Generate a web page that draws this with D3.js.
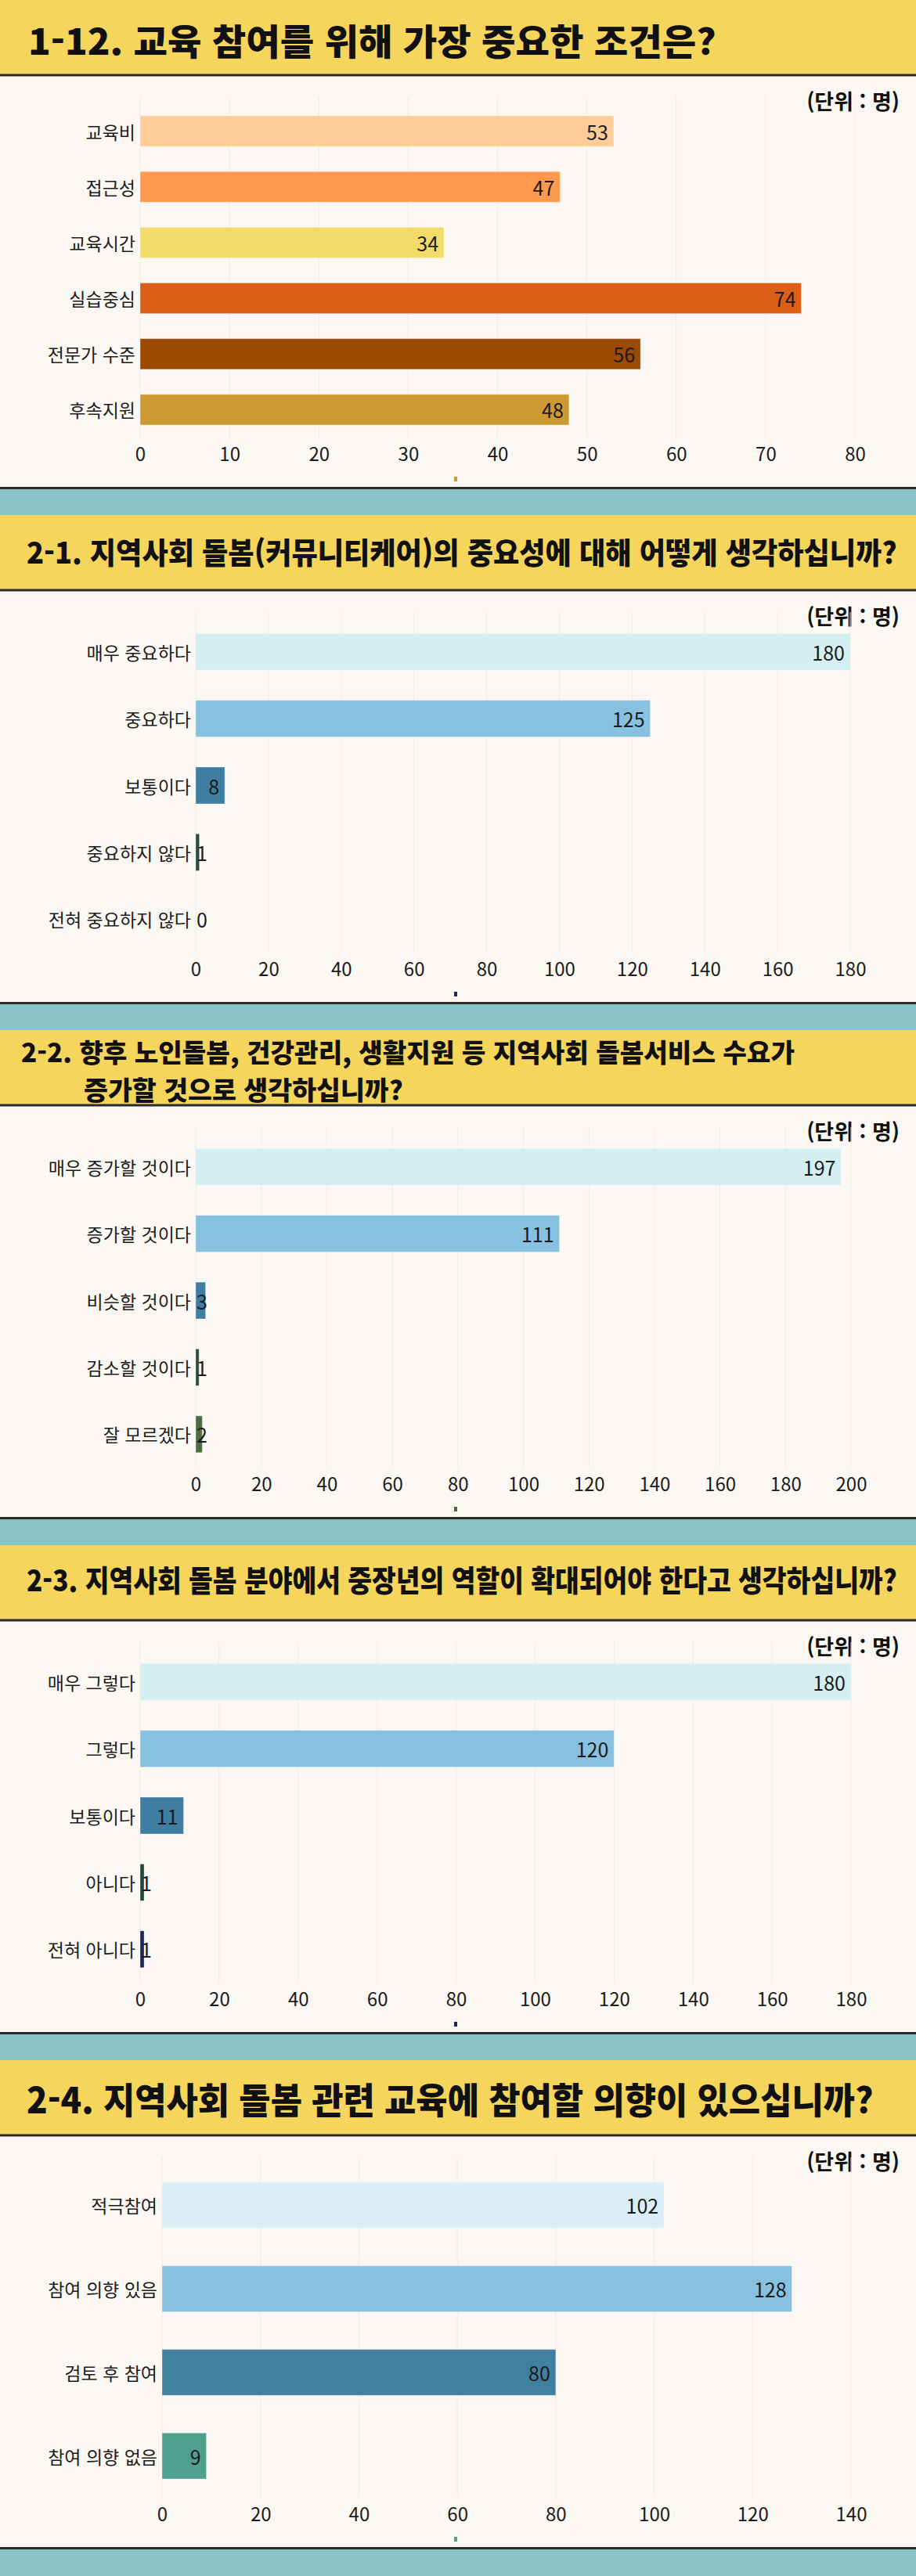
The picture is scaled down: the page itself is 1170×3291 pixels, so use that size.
<!DOCTYPE html>
<html lang="ko">
<head>
<meta charset="utf-8">
<script src="https://cdn.jsdelivr.net/npm/d3@7/dist/d3.min.js"></script>
<style>
  html, body { margin: 0; padding: 0; background: #88C4C6; }
  svg { display: block; }
  text { font-family: "Noto Sans CJK KR", "Noto Sans", sans-serif; }
</style>
</head>
<body>
<div id="chart"></div>
<script>
// ---------- DATA ----------
const q1Title = ["1-12. 교육 참여를 위해 가장 중요한 조건은?"];
const q1Categories = ["교육비", "접근성", "교육시간", "실습중심", "전문가 수준", "후속지원"];
const q1Values = [53, 47, 34, 74, 56, 48];
const q1Ticks = [0, 10, 20, 30, 40, 50, 60, 70, 80];

const q2Title = ["2-1. 지역사회 돌봄(커뮤니티케어)의 중요성에 대해 어떻게 생각하십니까?"];
const q2Categories = ["매우 중요하다", "중요하다", "보통이다", "중요하지 않다", "전혀 중요하지 않다"];
const q2Values = [180, 125, 8, 1, 0];
const q2Ticks = [0, 20, 40, 60, 80, 100, 120, 140, 160, 180];

const q3Title = ["2-2. 향후 노인돌봄, 건강관리, 생활지원 등 지역사회 돌봄서비스 수요가", "증가할 것으로 생각하십니까?"];
const q3Categories = ["매우 증가할 것이다", "증가할 것이다", "비슷할 것이다", "감소할 것이다", "잘 모르겠다"];
const q3Values = [197, 111, 3, 1, 2];
const q3Ticks = [0, 20, 40, 60, 80, 100, 120, 140, 160, 180, 200];

const q4Title = ["2-3. 지역사회 돌봄 분야에서 중장년의 역할이 확대되어야 한다고 생각하십니까?"];
const q4Categories = ["매우 그렇다", "그렇다", "보통이다", "아니다", "전혀 아니다"];
const q4Values = [180, 120, 11, 1, 1];
const q4Ticks = [0, 20, 40, 60, 80, 100, 120, 140, 160, 180];

const q5Title = ["2-4. 지역사회 돌봄 관련 교육에 참여할 의향이 있으십니까?"];
const q5Categories = ["적극참여", "참여 의향 있음", "검토 후 참여", "참여 의향 없음"];
const q5Values = [102, 128, 80, 9];
const q5Ticks = [0, 20, 40, 60, 80, 100, 120, 140];

const unitLabel = "(단위 : 명)";

// ---------- STYLES ----------
const q1Colors = ["#FFCB98", "#FF9A50", "#F2DB68", "#DD5E17", "#9C4A00", "#CC9933"];
const q2Colors = ["#D3EFF1", "#88C0E0", "#3F7EA0", "#2A4A3C", "#1E2A5A"];
const q3Colors = ["#D3EFF1", "#88C0E0", "#3F7EA0", "#2A4A3C", "#4F6B45"];
const q4Colors = ["#D3EFF1", "#88C0E0", "#3F7EA0", "#23473A", "#1C2657"];
const q5Colors = ["#DAEEF8", "#88C0E0", "#4080A0", "#50A08F"];

// ---------- LAYOUT (per section) ----------
const layouts = [
  { x0: 179, x1: 1092, titleSize: 46, titleLines: [{ x: 36, y: 50, w: 879 }] },
  { x0: 250, x1: 1086, titleSize: 38, titleLines: [{ x: 34, y: 46, w: 1112 }] },
  { x0: 250, x1: 1087, titleSize: 33, titleLines: [{ x: 27, y: 27, w: 988 }, { x: 107, y: 75, w: 408 }] },
  { x0: 179, x1: 1087, titleSize: 38, titleLines: [{ x: 34, y: 42, w: 1112 }] },
  { x0: 207, x1: 1087, titleSize: 46, titleLines: [{ x: 34, y: 48, w: 1082 }] }
];

const sections = [
  { title: q1Title, cats: q1Categories, vals: q1Values, ticks: q1Ticks, colors: q1Colors },
  { title: q2Title, cats: q2Categories, vals: q2Values, ticks: q2Ticks, colors: q2Colors },
  { title: q3Title, cats: q3Categories, vals: q3Values, ticks: q3Ticks, colors: q3Colors },
  { title: q4Title, cats: q4Categories, vals: q4Values, ticks: q4Ticks, colors: q4Colors },
  { title: q5Title, cats: q5Categories, vals: q5Values, ticks: q5Ticks, colors: q5Colors }
];

const W = 1170, H = 3291;
const PITCH = 658;
const HEADER_H = 95;
const BODY_BOTTOM = 624;
const TEXT = "#1b1b1b";
const FONT = "\"Noto Sans CJK KR\", \"Noto Sans\", sans-serif";

const svg = d3.select("#chart").append("svg")
  .attr("width", W).attr("height", H)
  .attr("viewBox", `0 0 ${W} ${H}`);

svg.append("rect").attr("width", W).attr("height", H).attr("fill", "#88C4C6");

sections.forEach((s, i) => {
  const L = layouts[i];
  const g = svg.append("g").attr("transform", `translate(0,${i * PITCH})`);

  // header
  g.append("rect").attr("x", 0).attr("y", 0).attr("width", W).attr("height", HEADER_H).attr("fill", "#F5D55B");
  // body
  g.append("rect").attr("x", 0).attr("y", HEADER_H).attr("width", W).attr("height", BODY_BOTTOM - HEADER_H).attr("fill", "#FBF8F3");
  // lines
  g.append("rect").attr("x", 0).attr("y", HEADER_H - 0.5).attr("width", W).attr("height", 3).attr("fill", "#2a2a2a");
  g.append("rect").attr("x", 0).attr("y", BODY_BOTTOM - 2).attr("width", W).attr("height", 3).attr("fill", "#2a2a2a");

  // title (scaled horizontally to the reference width)
  s.title.forEach((line, li) => {
    const tl = L.titleLines[li];
    const t = g.append("text")
      .attr("x", 0).attr("y", 0)
      .attr("dominant-baseline", "central")
      .attr("font-size", L.titleSize)
      .attr("font-weight", 900)
      .attr("fill", "#111")
      .text(line);
    const w0 = t.node().getComputedTextLength() || tl.w;
    const sx = tl.w / w0;
    t.attr("transform", `translate(${tl.x},${tl.y}) scale(${sx},1)`);
  });

  // unit label
  g.append("text")
    .attr("x", 1149).attr("y", 128)
    .attr("text-anchor", "end")
    .attr("dominant-baseline", "central")
    .attr("font-size", 27).attr("font-weight", 700)
    .attr("fill", "#111")
    .text(unitLabel);

  const x = d3.scaleLinear()
    .domain([0, s.ticks[s.ticks.length - 1]])
    .range([L.x0, L.x1]);
  const y = d3.scaleBand()
    .domain(s.cats)
    .range([132, 559])
    .paddingInner(0.45)
    .paddingOuter(0.225);

  // grid
  g.append("g").selectAll("line").data(s.ticks).join("line")
    .attr("x1", d => x(d)).attr("x2", d => x(d))
    .attr("y1", 124).attr("y2", 559)
    .attr("stroke", "#EEEAE3").attr("stroke-width", 1);

  // x axis (tick labels only)
  const axis = d3.axisBottom(x).tickValues(s.ticks).tickSize(0).tickPadding(0);
  const ax = g.append("g").attr("transform", "translate(0,578)").call(axis);
  ax.select(".domain").remove();
  ax.selectAll("text")
    .attr("y", 0).attr("dy", null)
    .attr("dominant-baseline", "central")
    .attr("font-size", 24)
    .attr("font-family", FONT)
    .attr("fill", TEXT);

  // y axis labels
  const yAxis = d3.axisLeft(y).tickSize(0).tickPadding(6);
  const ay = g.append("g").attr("transform", `translate(${L.x0},0)`).call(yAxis);
  ay.select(".domain").remove();
  ay.selectAll("text")
    .attr("dy", null)
    .attr("dominant-baseline", "central")
    .attr("font-size", 23)
    .attr("font-family", FONT)
    .attr("fill", TEXT);

  // bars
  const rows = s.cats.map((c, k) => ({ cat: c, val: s.vals[k], color: s.colors[k] }));
  g.append("g").selectAll("rect").data(rows).join("rect")
    .attr("x", x(0))
    .attr("y", d => y(d.cat))
    .attr("width", d => Math.max(0, x(d.val) - x(0)))
    .attr("height", y.bandwidth())
    .attr("fill", d => d.color)
    .attr("stroke", d => d.val > 0 ? "rgba(255,255,255,0.35)" : "none")
    .attr("stroke-width", 1);

  // value labels
  const vl = g.append("g").selectAll("text").data(rows).join("text")
    .attr("y", d => y(d.cat) + y.bandwidth() / 2)
    .attr("dominant-baseline", "central")
    .attr("font-size", 25)
    .attr("fill", TEXT)
    .text(d => d.val);
  vl.each(function (d) {
    const t = d3.select(this);
    const w = this.getComputedTextLength();
    const endX = x(d.val) - 7;
    if (endX - w < x(0) + 1) {
      t.attr("x", x(0) + 1).attr("text-anchor", "start");
    } else {
      t.attr("x", endX).attr("text-anchor", "end");
    }
  });

  // small legend marker
  g.append("rect")
    .attr("x", 580).attr("y", 609)
    .attr("width", 4).attr("height", 6)
    .attr("fill", s.colors[s.colors.length - 1]);
});
</script>
</body>
</html>
